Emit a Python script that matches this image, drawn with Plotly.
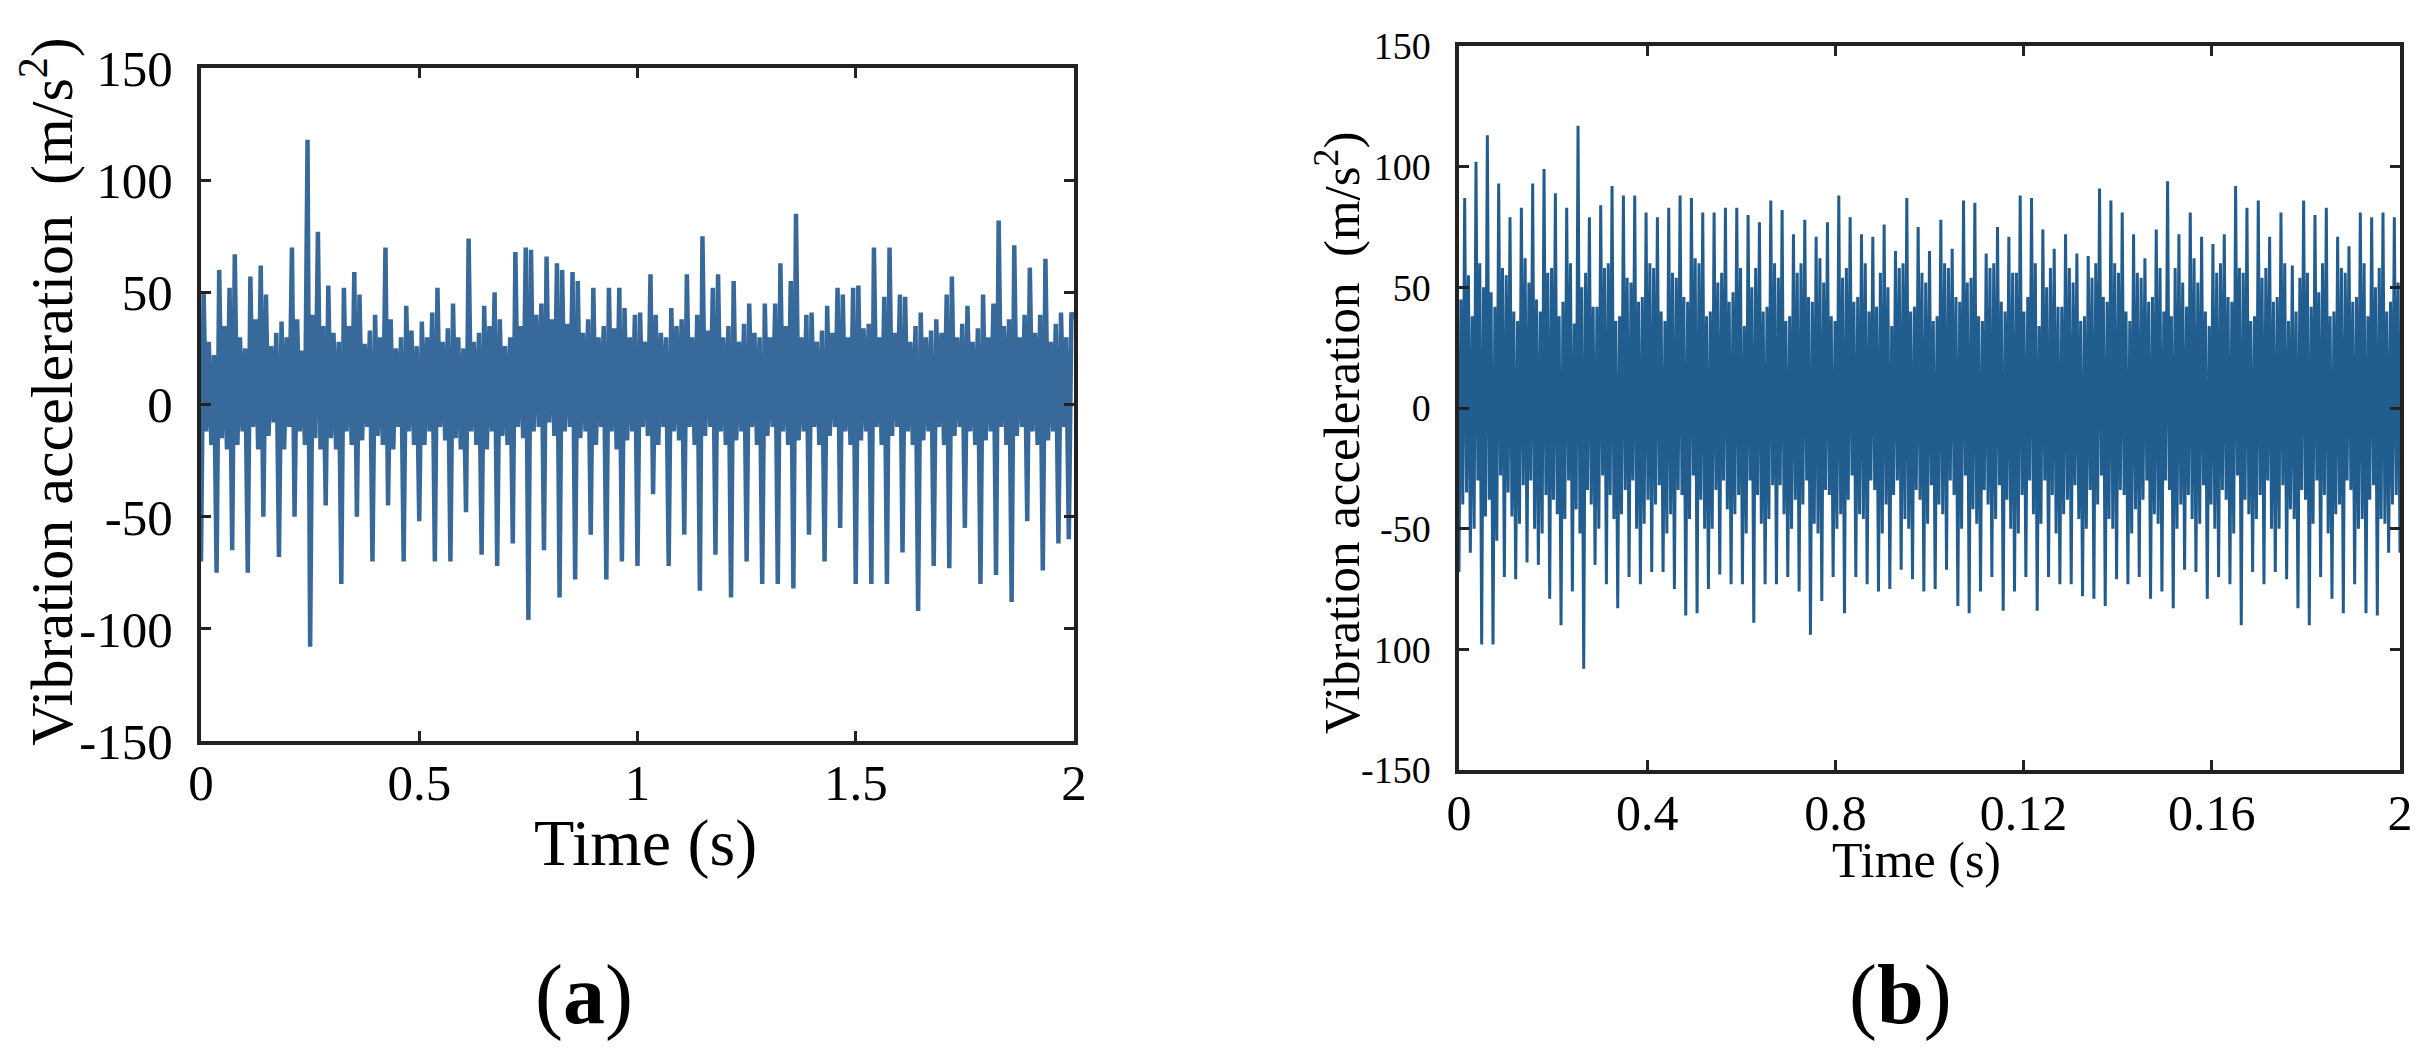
import numpy as np
import plotly.graph_objects as go

W, H = 2421, 1048
FONT = "Liberation Serif"
OFF = 8  # page body margin of the rendered html

# ---------------- data ----------------
# panel (a): vibration acceleration (m/s^2), one row ~ one impact cycle
left_acc = [
    -70, 50, -12, 28, -18, 22,
    -75, 60, -15, 35, -20, 52,
    -65, 67, -18, 30, -12, 25,
    -75, 57, -10, 38, -20, 62,
    -50, 49, -14, 26, -8, 32,
    -68, 37, -20, 30, -10, 70,
    -50, 38, -12, 24, -18, 118,
    -108, 40, -15, 77, -20, 35,
    -45, 53, -15, 32, -20, 28,
    -80, 52, -12, 35, -18, 59,
    -50, 49, -16, 27, -10, 33,
    -70, 40, -14, 30, -18, 70,
    -45, 38, -20, 25, -10, 30,
    -70, 44, -12, 33, -18, 26,
    -52, 37, -18, 30, -12, 41,
    -70, 52, -10, 28, -16, 34,
    -70, 45, -15, 30, -20, 25,
    -48, 74, -12, 28, -18, 32,
    -67, 44, -20, 35, -12, 50,
    -72, 38, -14, 26, -18, 30,
    -62, 68, -10, 35, -15, 70,
    -96, 69, -12, 40, -10, 45,
    -65, 66, -8, 38, -14, 63,
    -86, 60, -12, 36, -10, 59,
    -78, 55, -15, 32, -12, 38,
    -58, 52, -18, 30, -10, 35,
    -78, 52, -12, 34, -20, 52,
    -70, 43, -16, 30, -12, 40,
    -72, 41, -10, 28, -14, 58,
    -40, 40, -18, 32, -10, 30,
    -72, 43, -12, 35, -16, 38,
    -58, 58, -10, 30, -18, 40,
    -83, 75, -14, 33, -10, 52,
    -67, 58, -12, 30, -18, 35,
    -86, 55, -16, 28, -12, 36,
    -70, 45, -10, 32, -18, 30,
    -80, 45, -14, 30, -10, 45,
    -80, 63, -12, 35, -18, 55,
    -82, 85, -16, 30, -12, 40,
    -58, 41, -10, 28, -18, 33,
    -70, 44, -14, 32, -10, 52,
    -55, 49, -12, 30, -18, 52,
    -80, 53, -16, 34, -12, 36,
    -80, 70, -10, 30, -18, 48,
    -80, 70, -14, 32, -10, 49,
    -66, 48, -12, 28, -18, 35,
    -92, 41, -16, 30, -12, 33,
    -72, 38, -10, 32, -18, 49,
    -73, 57, -14, 30, -10, 36,
    -55, 44, -12, 28, -18, 34,
    -80, 49, -16, 30, -12, 45,
    -76, 82, -10, 35, -18, 38,
    -88, 71, -14, 30, -10, 40,
    -52, 61, -12, 32, -18, 40,
    -74, 65, -16, 28, -12, 36,
    -62, 41, -10, 30, -60, 41,
    38,
]

# panel (b): vibration acceleration (m/s^2), one row ~ one impact cycle
right_acc = [
    -68, 45, -40, 87, -35, 55,
    -60, 38, -50, 102, -30, 60,
    -98, 50, -45, 113, -38, 48,
    -98, 42, -55, 93, -28, 58,
    -70, 55, -35, 79, -45, 40,
    -71, 36, -48, 83, -32, 62,
    -64, 52, -30, 93, -50, 45,
    -65, 40, -52, 99, -36, 56,
    -79, 58, -38, 89, -44, 38,
    -90, 44, -46, 83, -30, 60,
    -76, 35, -42, 117, -52, 50,
    -108, 56, -34, 79, -40, 42,
    -65, 42, -50, 84, -28, 58,
    -73, 60, -36, 92, -46, 36,
    -83, 38, -44, 88, -34, 54,
    -70, 52, -30, 88, -50, 44,
    -73, 46, -48, 81, -38, 60,
    -68, 58, -40, 79, -32, 40,
    -68, 36, -52, 83, -44, 56,
    -75, 54, -34, 88, -36, 46,
    -86, 44, -46, 87, -28, 62,
    -85, 60, -38, 81, -50, 38,
    -75, 40, -50, 81, -34, 52,
    -69, 56, -30, 83, -42, 44,
    -73, 48, -44, 83, -36, 58,
    -73, 34, -52, 80, -30, 50,
    -89, 58, -36, 77, -48, 40,
    -73, 42, -46, 86, -32, 60,
    -73, 54, -32, 82, -44, 36,
    -70, 38, -50, 72, -38, 56,
    -76, 60, -40, 78, -30, 46,
    -94, 44, -48, 71, -52, 62,
    -80, 52, -34, 77, -36, 38,
    -70, 36, -50, 88, -44, 54,
    -85, 58, -38, 79, -28, 44,
    -70, 46, -44, 72, -46, 60,
    -73, 40, -30, 71, -34, 42,
    -76, 56, -52, 76, -40, 50,
    -75, 34, -36, 65, -30, 58,
    -67, 60, -46, 87, -50, 40,
    -71, 42, -34, 75, -38, 56,
    -76, 52, -48, 65, -32, 36,
    -75, 38, -40, 78, -44, 60,
    -67, 58, -30, 66, -36, 46,
    -82, 44, -50, 86, -28, 52,
    -85, 54, -42, 85, -48, 38,
    -76, 36, -34, 64, -40, 58,
    -70, 60, -46, 75, -32, 44,
    -84, 40, -38, 71, -50, 56,
    -76, 56, -52, 88, -36, 40,
    -70, 46, -30, 87, -44, 60,
    -84, 34, -48, 74, -30, 50,
    -70, 58, -36, 66, -52, 42,
    -73, 42, -44, 72, -38, 58,
    -73, 52, -32, 64, -46, 36,
    -78, 38, -50, 63, -34, 54,
    -79, 60, -40, 91, -28, 46,
    -82, 44, -46, 86, -50, 60,
    -71, 56, -34, 81, -36, 40,
    -73, 36, -52, 72, -42, 56,
    -70, 54, -38, 62, -30, 44,
    -79, 46, -44, 74, -48, 58,
    -76, 40, -30, 94, -34, 38,
    -83, 58, -50, 72, -40, 52,
    -67, 42, -36, 81, -46, 62,
    -68, 52, -48, 71, -32, 40,
    -79, 34, -40, 68, -50, 56,
    -70, 60, -34, 72, -38, 46,
    -73, 44, -52, 92, -28, 58,
    -90, 56, -38, 83, -44, 36,
    -68, 38, -46, 86, -36, 54,
    -73, 58, -30, 71, -50, 44,
    -68, 46, -50, 81, -32, 60,
    -71, 36, -42, 59, -46, 40,
    -83, 54, -34, 86, -38, 56,
    -90, 42, -48, 80, -30, 48,
    -70, 60, -36, 83, -52, 38,
    -79, 40, -44, 71, -40, 58,
    -85, 56, -30, 67, -34, 44,
    -73, 46, -50, 81, -46, 60,
    -85, 38, -38, 79, -32, 50,
    -86, 58, -46, 81, -48, 40,
    -60, 44, -40, 79, -36, 52,
    -60,
]

left_t = np.linspace(0, 2, len(left_acc))
right_t = np.linspace(0, 2, len(right_acc))

y_vals = [-150, -100, -50, 0, 50, 100, 150]
left_ytext = ["-150", "-100", "-50", "0", "50", "100", "150"]
right_ytext = ["-150", "100", "-50", "0", "50", "100", "150"]
left_xvals = [0, 0.5, 1, 1.5, 2]
left_xtext = ["0", "0.5", "1", "1.5", "2"]
right_xvals = [0, 0.4, 0.8, 1.2, 1.6, 2.0]
right_xtext = ["0", "0.4", "0.8", "0.12", "0.16", "2"]

ytitle = "Vibration acceleration \u00a0(m/s<sup>2</sup>)"
xtitle = "Time (s)"

# ---------------- figure ----------------
def px(x):
    return (x - OFF) / W


def py(y):
    return 1 - (y - OFF) / H


fig = go.Figure()
fig.add_trace(go.Scatter(x=left_t, y=left_acc, mode="lines",
                         line=dict(color="#37699a", width=4.5),
                         xaxis="x", yaxis="y", hoverinfo="skip"))
fig.add_trace(go.Scatter(x=right_t, y=right_acc, mode="lines",
                         line=dict(color="#215d8f", width=3),
                         xaxis="x2", yaxis="y2", hoverinfo="skip"))


def axis(domain, rng, vals, text, fsize, lw, tlen, standoff, anchor):
    return dict(domain=domain, range=rng, tickmode="array", tickvals=vals,
                ticktext=text, ticks="inside", ticklen=tlen, tickwidth=3,
                tickcolor="#222", showline=True, linecolor="#222",
                linewidth=lw, mirror="ticks", showgrid=False, zeroline=False,
                automargin=False,
                tickfont=dict(family=FONT, size=fsize, color="black"),
                ticklabelstandoff=standoff, anchor=anchor, fixedrange=True)


fig.update_layout(
    width=W, height=H,
    margin=dict(l=0, r=0, t=0, b=0, pad=0, autoexpand=False),
    paper_bgcolor="white", plot_bgcolor="white",
    showlegend=False,
    xaxis=axis([px(201), px(1074)], [0, 2], left_xvals, left_xtext, 51, 4, 10, -6, "y"),
    yaxis=axis([py(741), py(68)], [-150, 150], y_vals, left_ytext, 51, 4, 10, 14, "x"),
    xaxis2=axis([px(1459), px(2400)], [0, 2], right_xvals, right_xtext, 50, 3.5, 10, -4, "y2"),
    yaxis2=axis([py(770), py(46)], [-150, 150], y_vals, right_ytext, 38, 3.5, 10, 17, "x2"),
)

annotations = [
    dict(text=ytitle, x=px(48), y=py(392), textangle=-90,
         font=dict(family=FONT, size=60, color="black")),
    dict(text=xtitle, x=px(645), y=py(843),
         font=dict(family=FONT, size=66, color="black")),
    dict(text="(<b>a</b>)", x=px(584), y=py(995),
         font=dict(family=FONT, size=84, color="black")),
    dict(text=ytitle, x=px(1338), y=py(433), textangle=-90,
         font=dict(family=FONT, size=51, color="black")),
    dict(text=xtitle, x=px(1916), y=py(860),
         font=dict(family=FONT, size=50, color="black")),
    dict(text="(<b>b</b>)", x=px(1900), y=py(995),
         font=dict(family=FONT, size=84, color="black")),
]
for a in annotations:
    a.update(xref="paper", yref="paper", xanchor="center", yanchor="middle",
             showarrow=False)
fig.update_layout(annotations=annotations)

fig.write_html("out.html")
